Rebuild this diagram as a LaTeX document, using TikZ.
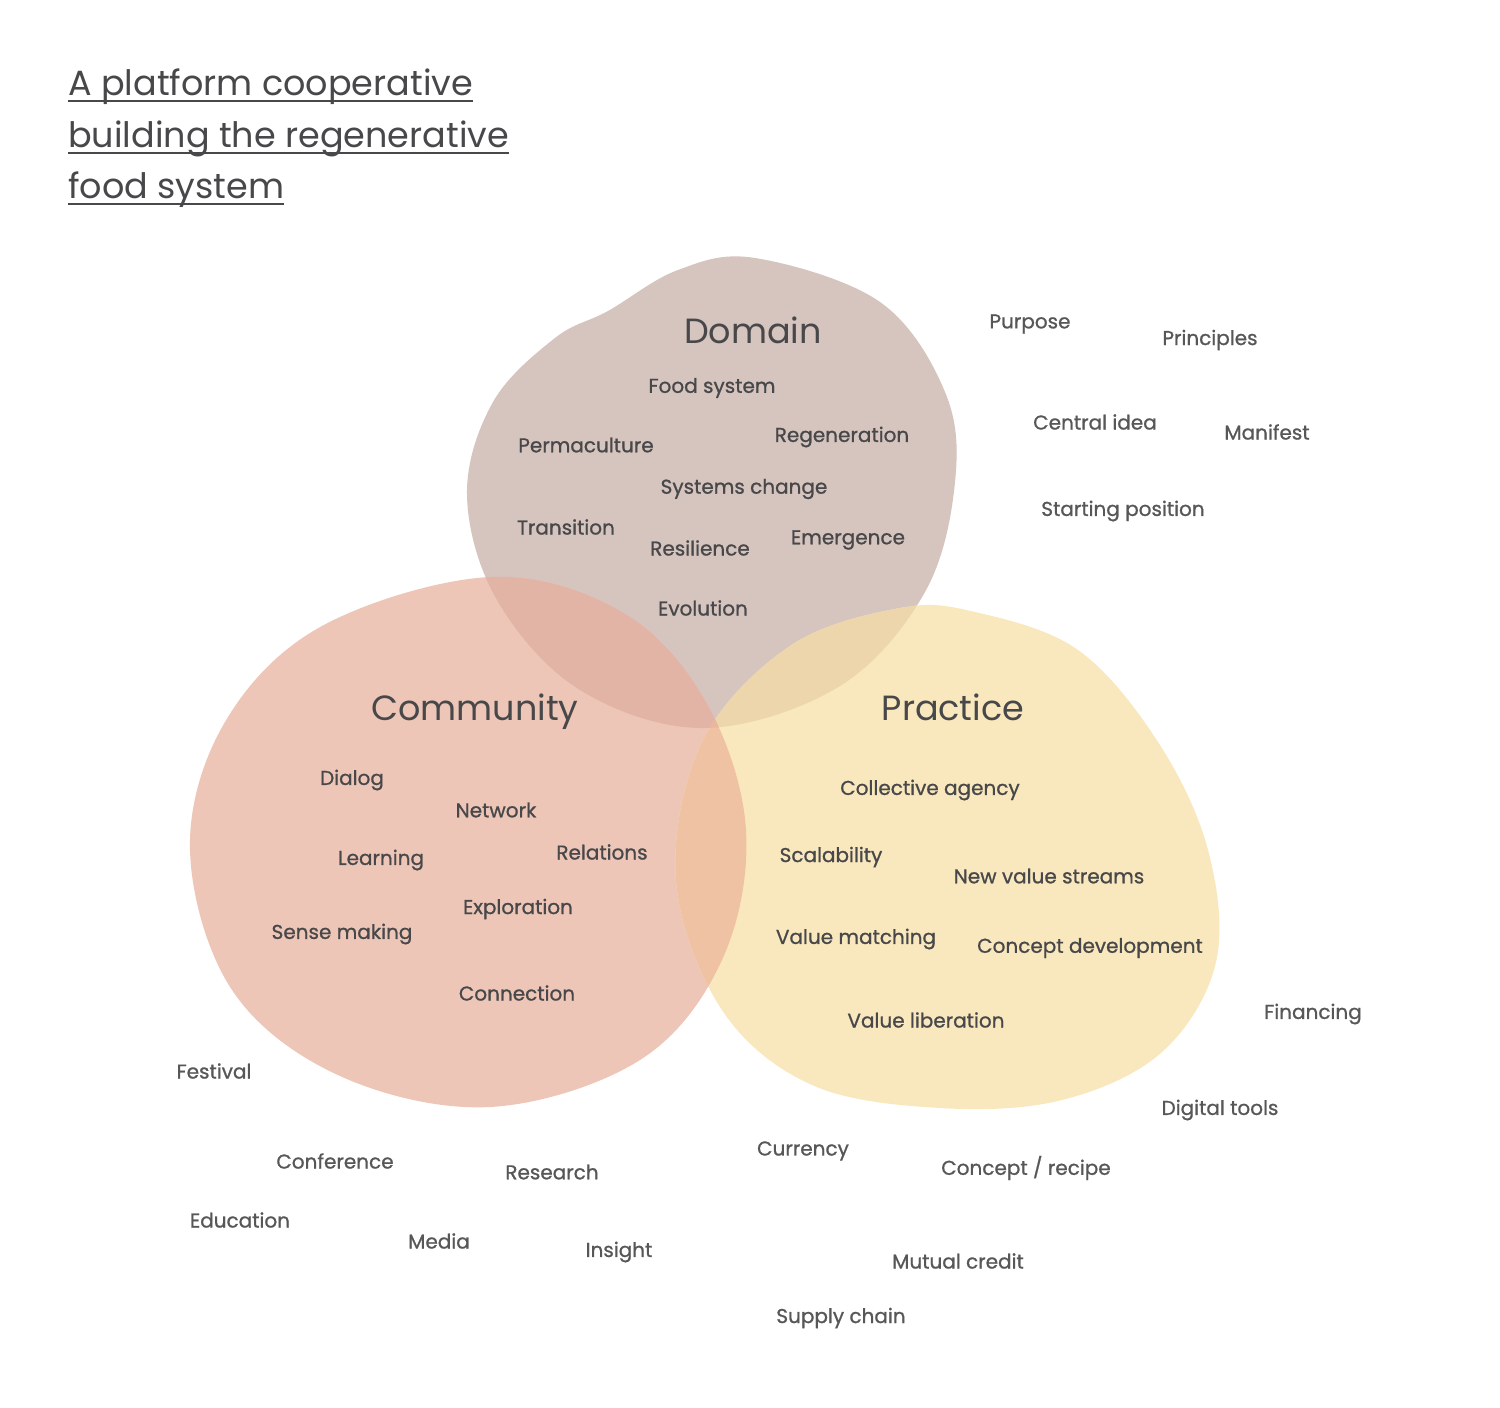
\documentclass[tikz,border=0pt]{standalone}
\usepackage{fontspec}
\setmainfont{Poppins}
\newfontfamily\medfont{Poppins}[FakeBold=0.9]
\definecolor{txt}{HTML}{48484A}
\definecolor{domc}{HTML}{D6C4BE}
\definecolor{comc}{HTML}{EDC6B7}
\definecolor{prac}{HTML}{F9E8BE}
\definecolor{dcc}{HTML}{E2B4A5}
\definecolor{dpc}{HTML}{EDD6AC}
\definecolor{cpc}{HTML}{EFC2A3}
\definecolor{allc}{HTML}{E8B79E}
\tikzset{
  lbl/.style={font=\medfont\fontsize{20}{24}\selectfont, text=txt, inner sep=0pt},
  outlbl/.style={font=\medfont\fontsize{20}{24}\selectfont, text=txt!92, inner sep=0pt},
  head/.style={font=\fontsize{35}{40}\selectfont, text=txt, inner sep=0pt},
  ttl/.style={font=\fontsize{35}{40}\selectfont, text=txt, inner sep=0pt, anchor=base west},
  uline/.style={draw=txt, line width=2.6pt}
}
\def\dompath{plot[smooth cycle, tension=0.6] coordinates {(755,258) (880,302) (945,392) (955,482) (925,592) (840,686) (705,728) (580,690) (497,600) (467,495) (493,402) (555,338) (608,311) (678,270)}}
\def\compath{plot[smooth cycle, tension=0.6] coordinates {(490,577) (622,612) (706,702) (746,830) (722,960) (640,1060) (490,1107) (340,1076) (232,990) (190,850) (225,722) (322,626)}}
\def\prapath{plot[smooth cycle, tension=0.6] coordinates {(900,608) (975,612) (1078,650) (1158,742) (1208,850) (1216,962) (1162,1052) (1062,1100) (940,1108) (812,1085) (722,1010) (676,880) (702,742) (790,646)}}
\begin{document}
\begin{tikzpicture}[x=1pt,y=-1pt]
\useasboundingbox (0,0) rectangle (1500,1408);
\fill[white] (0,0) rectangle (1500,1408);
% blobs
\fill[domc] \dompath;
\fill[comc] \compath;
\fill[prac] \prapath;
\begin{scope}
  \clip \dompath;
  \fill[dcc] \compath;
  \fill[dpc] \prapath;
\end{scope}
\begin{scope}
  \clip \compath;
  \fill[cpc] \prapath;
\end{scope}
\begin{scope}
  \clip \compath;
  \clip \dompath;
  \fill[allc] \prapath;
\end{scope}
% title
\node[ttl] (t1) at (68,95) {A platform cooperative};
\node[ttl] (t2) at (68,147) {building the regenerative};
\node[ttl] (t3) at (68,198) {food system};
\draw[uline] ([yshift=-6pt]t1.base west) -- ([yshift=-6pt]t1.base east);
\draw[uline] ([yshift=-6pt]t2.base west) -- ([yshift=-6pt]t2.base east);
\draw[uline] ([yshift=-6pt]t3.base west) -- ([yshift=-6pt]t3.base east);
% headings
\node[head] (hd) at (753,330) {Domain};
\node[head] (hc) at (475,712) {Community};
\node[head] (hp) at (953,707) {Practice};
% domain
\node[lbl] (d1) at (712,388) {Food system};
\node[lbl] (d2) at (586,445) {Permaculture};
\node[lbl] (d3) at (842,437) {Regeneration};
\node[lbl] (d4) at (744,489) {Systems change};
\node[lbl] (d5) at (566,527) {Transition};
\node[lbl] (d6) at (700,548) {Resilience};
\node[lbl] (d7) at (848,540) {Emergence};
\node[lbl] (d8) at (703,608) {Evolution};
% community
\node[lbl] (c1) at (352,780) {Dialog};
\node[lbl] (c2) at (496,810) {Network};
\node[lbl] (c3) at (381,860) {Learning};
\node[lbl] (c4) at (602,852) {Relations};
\node[lbl] (c5) at (518,909) {Exploration};
\node[lbl] (c6) at (342,934) {Sense making};
\node[lbl] (c7) at (517,993) {Connection};
% practice
\node[lbl] (p1) at (930,790) {Collective agency};
\node[lbl] (p2) at (831,857) {Scalability};
\node[lbl] (p3) at (1049,876) {New value streams};
\node[lbl] (p4) at (856,939) {Value matching};
\node[lbl] (p5) at (1090,948) {Concept development};
\node[lbl] (p6) at (926,1020) {Value liberation};
% outside
\node[outlbl] (o1) at (1030,324) {Purpose};
\node[outlbl] (o2) at (1210,340) {Principles};
\node[outlbl] (o3) at (1095,422) {Central idea};
\node[outlbl] (o4) at (1267,432) {Manifest};
\node[outlbl] (o5) at (1123,511) {Starting position};
\node[outlbl] (o6) at (1313,1014) {Financing};
\node[outlbl] (o7) at (1220,1110) {Digital tools};
\node[outlbl] (o8) at (803,1151) {Currency};
\node[outlbl] (o9) at (1026,1168) {Concept / recipe};
\node[outlbl] (o10) at (958,1261) {Mutual credit};
\node[outlbl] (o11) at (841,1318) {Supply chain};
\node[outlbl] (o12) at (214,1071) {Festival};
\node[outlbl] (o13) at (335,1161) {Conference};
\node[outlbl] (o14) at (552,1172) {Research};
\node[outlbl] (o15) at (240,1220) {Education};
\node[outlbl] (o16) at (439,1241) {Media};
\node[outlbl] (o17) at (619,1252) {Insight};
\end{tikzpicture}
\end{document}
